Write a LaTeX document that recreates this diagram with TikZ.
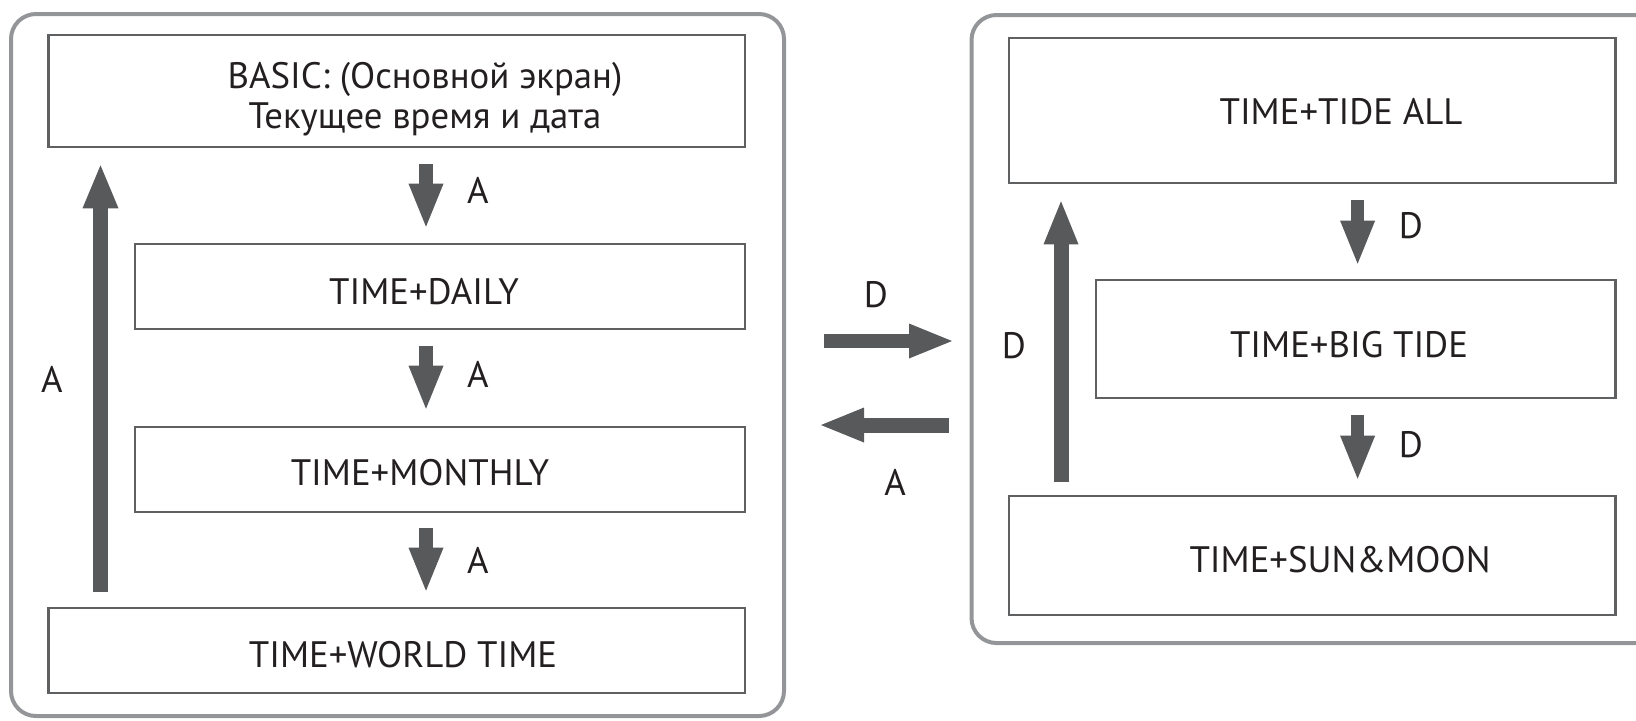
\documentclass[tikz,border=0pt]{standalone}
\usepackage{fontspec}
\setmainfont{PT Sans}
\usetikzlibrary{arrows.meta}
\definecolor{dg}{HTML}{58595B}
\definecolor{bx}{HTML}{5F6062}
\definecolor{lg}{HTML}{939598}
\definecolor{tx}{HTML}{231F20}
\begin{document}
\begin{tikzpicture}[x=0.5pt,y=-0.5pt,
  scr/.style={draw=bx, line width=1.3pt, rectangle, inner sep=0pt},
  lbl/.style={anchor=base, inner sep=0pt, text=tx, font=\fontsize{18.4}{21}\selectfont},
  blk/.style={draw=dg, line width=6.8pt, -{Triangle[width=17.5pt,length=21.5pt,line width=0pt]}},
  frm/.style={draw=lg, line width=2pt, rounded corners=12.5pt}]
\useasboundingbox (0,0) rectangle (1636,720);
\clip (0,0) rectangle (1636,720);
% frames
\draw[frm] (11,14) rectangle (784,716);
\draw[frm] (971.5,15) rectangle (1700,643);
% boxes
\node[scr, minimum width=348.25pt, minimum height=56pt] (basic) at (396.75,91) {};
\node[scr, minimum width=305pt, minimum height=42.5pt] (daily) at (440,286.5) {};
\node[scr, minimum width=305pt, minimum height=42.5pt] (monthly) at (440,469.5) {};
\node[scr, minimum width=348.25pt, minimum height=42.5pt] (world) at (396.75,650.5) {};
\node[scr, minimum width=303.3pt, minimum height=72.5pt] (tideall) at (1312.3,110.5) {};
\node[scr, minimum width=259.8pt, minimum height=59pt] (bigtide) at (1355.8,339) {};
\node[scr, minimum width=303.3pt, minimum height=59.5pt] (sunmoon) at (1312.3,555.5) {};
% box texts
\node[lbl] (tbasic1) at (425,88) {BASIC: (Основной экран)};
\node[lbl] (tbasic2) at (425,128) {Текущее время и дата};
\node[lbl] (tdaily) at (424,304) {TIME+DAILY};
\node[lbl] (tmonthly) at (420,485) {TIME+MONTHLY};
\node[lbl] (tworld) at (403,667) {TIME+WORLD TIME};
\node[lbl] (ttideall) at (1341,124) {TIME+TIDE ALL};
\node[lbl] (tbigtide) at (1349,357) {TIME+BIG TIDE};
\node[lbl] (tsunmoon) at (1340,572) {TIME+SUN\&MOON};
% arrows left
\draw[blk, shorten <=8pt, shorten >=8pt] (426,0 |- basic.south) -- (426,0 |- daily.north);
\draw[blk, shorten <=8pt, shorten >=8.5pt] (426,0 |- daily.south) -- (426,0 |- monthly.north);
\draw[blk, shorten <=7.5pt, shorten >=8pt] (426,0 |- monthly.south) -- (426,0 |- world.north);
\draw[blk, line width=7.5pt, -{Triangle[width=18pt,length=21.5pt,line width=0pt]}, shorten <=7.5pt, shorten >=8.5pt] (100.5,0 |- world.north) -- (100.5,0 |- basic.south);
% arrows right
\draw[blk, shorten <=8pt, shorten >=7.5pt] (1357.6,0 |- tideall.south) -- (1357.6,0 |- bigtide.north);
\draw[blk, shorten <=8pt, shorten >=8pt] (1357.6,0 |- bigtide.south) -- (1357.6,0 |- sunmoon.north);
\draw[blk, line width=7.5pt, shorten <=6.5pt, shorten >=8.5pt] (1061,0 |- sunmoon.north) -- (1061,0 |- tideall.south);
% middle arrows
\coordinate (rl) at (824,341);
\coordinate (rr) at (952,341);
\coordinate (ll) at (821,425);
\coordinate (lr) at (949,425);
\draw[blk, line width=7pt] (rl) -- (rr);
\draw[blk, line width=7.5pt] (lr) -- (ll);
% labels
\node[lbl] (la1) at (478,203) {A};
\node[lbl] (la2) at (478,387) {A};
\node[lbl] (la3) at (478,573) {A};
\node[lbl] (laup) at (52,392) {A};
\node[lbl] (ldmid) at (876,307) {D};
\node[lbl] (lamid) at (895,495) {A};
\node[lbl] (ldup) at (1014,358) {D};
\node[lbl] (ld1) at (1411,238) {D};
\node[lbl] (ld2) at (1411,457) {D};
\end{tikzpicture}
\end{document}
